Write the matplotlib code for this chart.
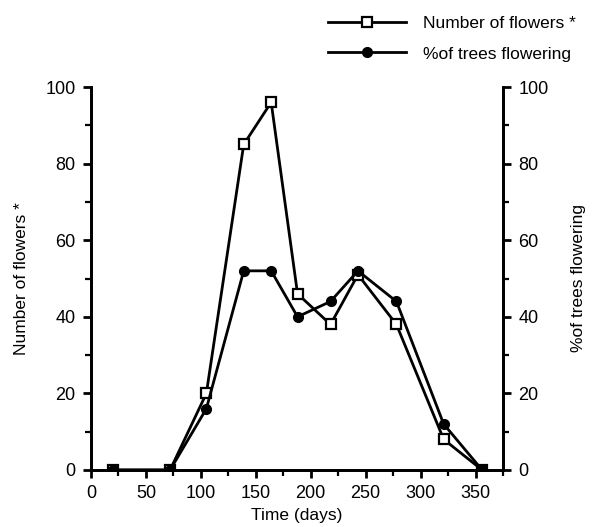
import matplotlib.pyplot as plt
from matplotlib.ticker import MultipleLocator

plt.rcParams['font.family'] = ['Liberation Sans', 'DejaVu Sans']

# sampling days and the two series
days = [20, 72, 105, 139, 164, 188, 218, 243, 278, 321, 356]
n_flowers = [0, 0, 20, 85, 96, 46, 38, 51, 38, 8, 0]
pct_trees = [0, 0, 16, 52, 52, 40, 44, 52, 44, 12, 0]

fig = plt.figure(figsize=(6, 5.27), dpi=100)
ax = fig.add_axes([91 / 600, 57 / 527, 412 / 600, 383 / 527])
ax2 = ax.twinx()

l1, = ax.plot(days, n_flowers, color='black', lw=2, marker='s', ms=7,
              mfc='white', mec='black', mew=1.6, zorder=3)
l2, = ax2.plot(days, pct_trees, color='black', lw=2, marker='o', ms=7,
               mfc='black', mec='black', zorder=2)

ax.set_xlim(0, 375)
ax.set_ylim(0, 100)
ax2.set_ylim(0, 100)
ax.xaxis.set_major_locator(MultipleLocator(50))
ax.xaxis.set_minor_locator(MultipleLocator(25))
for a in (ax, ax2):
    a.yaxis.set_major_locator(MultipleLocator(20))
    a.yaxis.set_minor_locator(MultipleLocator(10))
    a.spines['top'].set_visible(False)
    for s in a.spines.values():
        s.set_linewidth(2)
    a.tick_params(which='major', length=6, width=2, labelsize=13, pad=5)
    a.tick_params(which='minor', length=4, width=1.6)

ax.set_xlabel('Time (days)', fontsize=12.5, labelpad=4)
ax.set_ylabel('Number of flowers *', fontsize=12.5, labelpad=12)
ax2.set_ylabel('%of trees flowering', fontsize=12.5, labelpad=16)

fig.legend([l1, l2], ['Number of flowers *', '%of trees flowering'],
           loc='upper left', bbox_to_anchor=(312 / 600, 1 - 0 / 527),
           frameon=False, fontsize=12.5, handlelength=4.5, handletextpad=1.0,
           labelspacing=0.9)

fig.savefig('out.png', dpi=100)
